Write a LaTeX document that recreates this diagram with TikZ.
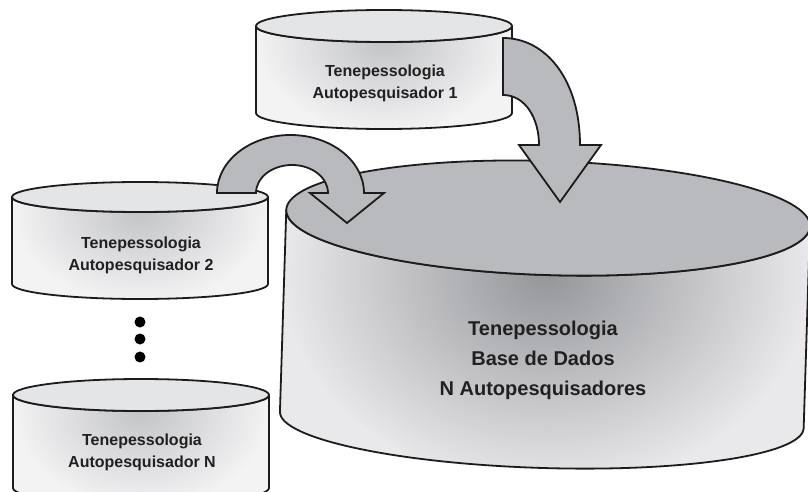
\documentclass[tikz,border=0pt]{standalone}
\usepackage{fontspec}
\setmainfont{Liberation Sans}
\definecolor{txt}{HTML}{231F20}
\definecolor{argray}{HTML}{B9BABD}
\definecolor{smtop}{HTML}{E4E5E7}
\definecolor{sminner}{HTML}{C3C4C7}
\definecolor{smouter}{HTML}{F3F3F4}
\definecolor{bgtop}{HTML}{B9BABD}
\definecolor{bginner}{HTML}{95969A}
\definecolor{bgouter}{HTML}{E9E9EB}
\definecolor{ln}{HTML}{1E1B1C}
% #1 cx, #2 top cy, #3 bottom cy, #4 rx, #5 ry (top), #6 ry (bottom), #7 inner, #8 outer, #9 top colour
\newcommand{\mycyl}[9]{%
  \begin{scope}
    \clip (#1-#4,#2) -- (#1-#4,#3) arc[start angle=180,end angle=0,x radius=#4,y radius=#6]
      -- (#1+#4,#2) arc[start angle=0,end angle=180,x radius=#4,y radius=#5] -- cycle;
    \fill[#8] (#1-#4-5,#2-#5-5) rectangle (#1+#4+5,#3+#6+5);
    \shade[inner color=#7, outer color=#8] (#1,#2+#5) ellipse [x radius=#4*1.0, y radius=(#3-#2)*1.05];
  \end{scope}
  \draw[outl] (#1-#4,#2) -- (#1-#4,#3) arc[start angle=180,end angle=0,x radius=#4,y radius=#6]
      -- (#1+#4,#2) arc[start angle=0,end angle=180,x radius=#4,y radius=#5] -- cycle;
  \fill[#9] (#1,#2) ellipse [x radius=#4, y radius=#5];
  \draw[outl] (#1,#2) ellipse [x radius=#4, y radius=#5];
}
\begin{document}
\begin{tikzpicture}[x=1pt,y=-1pt,line join=round,
  outl/.style={draw=ln, line width=1.8pt},
  lbl/.style={font=\bfseries\fontsize{16}{22}\selectfont, text=txt, align=center},
  biglbl/.style={font=\bfseries\fontsize{20}{30}\selectfont, text=txt, align=center},
  arrowfill/.style={fill=argray, draw=ln, line width=1.8pt, line join=miter},
  dot/.style={circle, fill=black, inner sep=0pt, minimum size=11pt}]
\useasboundingbox (0,0) rectangle (808,492);
\clip (0,0) rectangle (808,492);

% big database cylinder
\begin{scope}[rotate around={-1.8:(545,318)}]
  \mycyl{545}{218}{420}{262}{57}{48}{bginner}{bgouter}{bgtop}
\end{scope}

% small cylinders
\mycyl{384}{26}{113}{128}{16}{16}{sminner}{smouter}{smtop}
\mycyl{140}{197}{284}{128}{15}{15}{sminner}{smouter}{smtop}
\mycyl{141}{395}{488}{128}{16}{16}{sminner}{smouter}{smtop}

% arrows
\draw[arrowfill] (503,38) .. controls (546,38) and (580,80) .. (580,145)
  -- (601,145) -- (560,202) -- (519,145) -- (539,145)
  .. controls (539,118) and (525,95) .. (503,95) -- cycle;
\draw[arrowfill] (217,193) -- (256,193)
  arc[start angle=180, end angle=360, x radius=36, y radius=28]
  -- (310,193) -- (347,223) -- (384,193) -- (364,193)
  arc[start angle=0, end angle=-180, x radius=73.5, y radius=58] -- cycle;

% dots
\node[dot] (d1) at (140,322) {};
\node[dot] (d2) at (140,339) {};
\node[dot] (d3) at (140,357) {};

% labels
\node[lbl] (t1) at (385,83) {Tenepessologia\\Autopesquisador 1};
\node[lbl] (t2) at (141,255) {Tenepessologia\\Autopesquisador 2};
\node[lbl] (tn) at (142,452) {Tenepessologia\\Autopesquisador N};
\node[biglbl] (tb) at (543,360) {Tenepessologia\\Base de Dados\\N Autopesquisadores};
\end{tikzpicture}
\end{document}
